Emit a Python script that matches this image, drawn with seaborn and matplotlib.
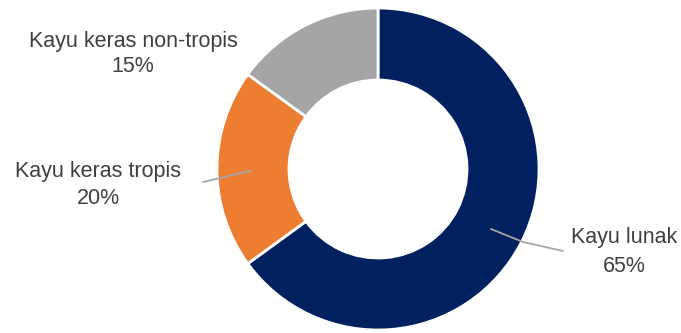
import matplotlib
matplotlib.use("Agg")
import matplotlib.pyplot as plt
import seaborn as sns

categories = ["Kayu lunak", "Kayu keras tropis", "Kayu keras non-tropis"]
shares = [65, 20, 15]
colors = ["#002060", "#ED7D31", "#A5A5A5"]

sns.set_theme(style="white")
plt.rcParams['font.family'] = ['Liberation Sans', 'DejaVu Sans']

W, H = 681, 333
fig = plt.figure(figsize=(W / 100, H / 100), dpi=100)

# pie axes in pixel coordinates (y up)
pax = fig.add_axes([0, 0, 1, 1])
cx, cy, R = 378, H - 169, 161
pax.pie(shares, colors=sns.color_palette(colors), startangle=90, counterclock=False,
        center=(cx, cy), radius=R, frame=True,
        wedgeprops=dict(width=72, edgecolor="white", linewidth=2))
pax.set_xlim(0, W)
pax.set_ylim(0, H)
pax.set_aspect("equal")
pax.axis("off")

# overlay axes for labels and leader lines (pixel coords, y down)
ax = fig.add_axes([0, 0, 1, 1])
ax.set_xlim(0, W)
ax.set_ylim(H, 0)
ax.axis("off")
ax.patch.set_alpha(0)

tc = "#404040"
fs = 15.5
label_pos = {
    "Kayu lunak": (624, 238, 267),
    "Kayu keras tropis": (98, 172, 198),
    "Kayu keras non-tropis": (133, 41, 67),
}
for cat, val in zip(categories, shares):
    x, y1, y2 = label_pos[cat]
    ax.text(x, y1, cat, ha="center", va="center", fontsize=fs, color=tc)
    ax.text(x, y2, f"{val}%", ha="center", va="center", fontsize=fs, color=tc)

# leader lines
ax.plot([491, 523, 563], [229, 242, 251], color="#A6A6A6", lw=1.3)
ax.plot([250, 203], [171, 182], color="#A6A6A6", lw=1.3)

fig.savefig("out.png", dpi=100, facecolor="white")
